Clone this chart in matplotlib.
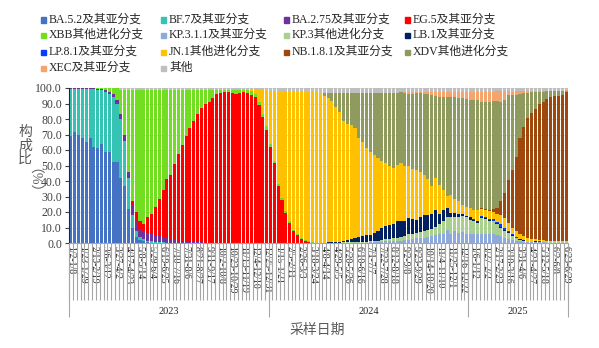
import matplotlib
matplotlib.use("Agg")
import matplotlib.pyplot as plt
import numpy as np
from matplotlib.patches import Rectangle

plt.rcParams['font.family'] = ['Liberation Serif', 'Noto Sans CJK SC']

# weekly lineage composition (%), Jan 2023 - Jun 2025, one value per week
ba52 = [69, 72, 70, 68, 65.5, 68, 62, 61.5, 64, 58.5, 59, 52.5, 52.5, 42, 36.5, 22, 10, 4, 2, 1,
        0.5, 0.3, 0.2, 0.1, 0.1] + [0] * 105
bf7 = [30.5, 27.5, 29.5, 31.5, 34, 31.5, 37.5, 37.5, 34.5, 39, 37, 41.5, 37.5, 38, 29.5, 20, 8, 4, 2,
       1.5, 1, 0.8, 0.6, 0.4, 0.3, 0.2] + [0] * 104
ba275 = [0.3] * 7 + [0.5, 0.8, 1.2, 1.5, 2, 2.5, 3, 3.5, 4, 6, 6, 5, 5, 5, 4.5, 4, 4, 3.5, 3, 2.5, 2,
                     1.5, 1.2, 1, 0.8, 0.6, 0.5, 0.4, 0.3] + [0.2] * 5 + [0.1] * 5 + [0] * 84
eg5 = [0] * 16 + [3, 6, 5, 5, 10.5, 13.4, 18.2, 24, 30, 37.8, 41.3, 49, 56, 61.8, 68, 73.2, 78.4, 82.5,
                  86.6, 89.7, 90.8, 93.1, 95.8, 96.4, 97.4, 97.5, 96.9, 95.9, 96.5, 97.1, 96.9, 95.5,
                  94.4, 89, 81, 73, 62, 51.5, 36.5, 27.5, 19.3, 13, 7.5, 5, 2.8, 1.5, 0.6, 0.3, 0.2,
                  0.1] + [0] * 64
xbb = [0.1] * 7 + [0.3, 0.5, 1.1, 2.3, 3.8, 7.3, 16, 29.5, 53, 72, 79, 85, 86.5, 82, 80, 76, 70.5, 65.1,
                   58, 55.2, 48, 41.5, 36, 30, 25, 20, 16, 12, 9, 8, 5.7, 3, 2.4, 1.4, 1.4, 2, 3, 2.2,
                   1.5, 1.6, 2.3, 1.6, 2, 2.5, 2.5, 2, 1.5, 1.5, 1.5, 1.2, 1, 1, 1, 0.7, 0.5, 0.4, 0.2,
                   0.1] + [0] * 65
kp311 = [0] * 67 + [0.1] * 5 + [0.2] * 3 + [0.3] * 3 + [
    0.5, 0.5, 0.6, 0.8, 1, 1, 1.2, 1.5, 1.5, 2, 2.2, 2.4, 3, 3.2, 3.5, 4, 4.5, 5, 5.5, 6, 8.5, 6, 7.5,
    6.5, 7, 6, 5.5, 5.5, 5.5, 6, 5.5, 5.5, 6, 5, 4.5, 3.5, 2.5, 2, 1.5, 1, 0.8, 0.6, 0.5, 0.5, 0.4,
    0.4] + [0.3] * 6
kp3 = [0] * 65 + [0.1, 0.1, 0.2, 0.2, 0.2, 0.2, 0.3, 0.3, 0.4, 0.4, 0.5, 0.5, 0.6] + [
    0.5, 0.7, 0.9, 1.2, 1.3, 1.8, 1.8, 2, 2.5, 2.5, 3.3, 3.6, 3.5, 3.8, 4, 4.5, 4.5, 5.5, 6.5, 8, 8.5,
    10.5, 9.5, 10.5, 10.5, 10.5, 9.5, 8.5, 7.5, 10, 10, 9, 8, 7.5, 5.5, 4.5, 4, 2.5, 1.5, 1, 0.7, 0.6,
    0.5, 0.4, 0.4, 0.3] + [0.3] * 6
lb1 = [0] * 65 + [0.1, 0.2, 0.2, 0.3, 0.4, 0.5, 0.8, 1.2, 1.8, 2.5, 3, 3.5, 4.5] + [
    4.4, 5.3, 6.5, 7.7, 8.4, 8.7, 9.5, 10.5, 10, 10, 10.5, 9.5, 8.5, 10, 10.5, 9.5, 9.5, 11, 7, 7.5,
    5.5, 3, 2.5, 1.5, 1, 1, 1.5, 1, 1, 0.8, 0.5, 0.5, 0.5, 0.5, 0.5, 0.5, 0.5, 0.5, 0.3, 0.3, 0.2,
    0.1, 0.1, 0.1, 0.1, 0.1] + [0.1] * 6
lp81 = [0] * 105 + [0.2, 0.2, 0.7, 1, 0.8, 0.7, 0.8, 1.5, 1.5, 1, 0.5, 0.3, 0.2, 0.1, 0.1, 0.1, 0.1,
                    0.1, 0.1] + [0.1] * 6
jn1 = [0] * 44 + [0.2, 0.3, 0.5, 1.2, 2.5, 7.5, 15, 23, 34, 45, 59.5, 68.5, 77, 83.5, 89, 91.5, 94,
                  95.5, 96.5, 97, 97.2, 96.3, 94.8, 93.2, 91.1, 87, 83.5, 77.8, 75.3, 73.6, 70.8,
                  64.2, 60.7, 55.6, 53.6, 50.5, 47, 42.9, 40.8, 38, 35.8, 36.4, 37.5, 35.3, 33.4,
                  32.1, 32.2, 29, 26, 23.2, 18, 20.3, 18.5, 12.8, 8, 11.5, 8.8, 8.3, 6.2, 5.5, 6,
                  6.3, 6.8, 4.5, 4.5, 4.7, 4.8, 5.2, 6, 6, 5, 4.5, 3.9, 3, 2.4, 1.9, 1.6, 1.3, 1.0,
                  0.9, 0.8, 0.7, 0.7, 0.7, 0.7, 0.7]
nb181 = [0] * 107 + [0.3, 0.5, 1, 2, 3.5, 8.8, 16, 27.8, 37, 48.3, 62.1, 70.8, 77.2, 80.9, 83.9,
                     87.7, 89.4, 91.1, 92.4, 93.4, 93.6, 94.1, 95.6]
xdv = [0] * 65 + [0.4, 1.9, 3.3, 5.3, 9.3, 12.7, 18, 20, 21, 23.1, 29, 32, 36, 38, 40, 42, 44.4, 45.5,
                  47.5, 48.7, 46.6, 45.7, 47.2, 46.6, 48.7, 49.3, 50.5, 52.3, 54.8, 59, 53.2, 57,
                  59.7, 64, 63, 65.7, 66.7, 68.8, 70, 70, 71, 71, 68.7, 69, 69.5, 69.5, 69.2, 64.4,
                  60.2, 54.4, 48.2, 39.9, 28.6, 21.7, 16.5, 13.5, 11.1, 7.9, 6.5, 5.1, 4, 3, 2.9,
                  2.4, 1.2]
xec = [0] * 86 + [0.3, 0.5, 1.5, 1.2, 1, 1, 1.2, 1.5, 2, 2.5, 3, 3.5, 3, 3.5, 3.5, 4, 4, 4.5, 5, 5,
                  5.5, 6.5, 6.5, 6.5, 6, 6.5, 7, 6, 3, 3, 2.5, 2, 1.5, 1.2, 1, 0.8, 0.6, 0.5, 0.4,
                  0.3, 0.3, 0.2, 0.2, 0.2]
other = [0.2] * 13 + [1] * 35 + [1.5] * 4 + [2] * 2 + [2.5] * 11 + [3] * 21 + [2.5] * 25 + [1.8] * 18 + [1.5]

series = [ba52, bf7, ba275, eg5, xbb, kp311, kp3, lb1, lp81, jn1, nb181, xdv, xec, other]
names = ['BA.5.2及其亚分支', 'BF.7及其亚分支', 'BA.2.75及其亚分支', 'EG.5及其亚分支',
         'XBB其他进化分支', 'KP.3.1.1及其亚分支', 'KP.3其他进化分支', 'LB.1及其亚分支',
         'LP.8.1及其亚分支', 'JN.1其他进化分支', 'NB.1.8.1及其亚分支', 'XDV其他进化分支',
         'XEC及其亚分支', '其他']
colors = ['#4472C4', '#35C3B4', '#7030A0', '#FF0000', '#72DE22', '#8EA9DB', '#A9D08E', '#002060',
          '#0A3CFF', '#FFC000', '#9E480E', '#8E9A5E', '#F4A46C', '#BFBFBF']

# every third week is labelled
week_labels = ['1/2-1/8', '1/23-1/29', '2/13-2/19', '3/6-3/12', '3/27-4/2', '4/17-4/23', '5/8-5/14',
               '5/29-6/4', '6/19-6/25', '7/10-7/16', '7/31-8/6', '8/21-8/27', '9/11-9/17',
               '10/2-10/8', '10/23-10/29', '11/13-11/19', '12/4-12/10', '12/25-12/31',
               '1/15-1/21', '2/5-2/11', '2/26-3/3', '3/18-3/24', '4/8-4/14', '4/29-5/5',
               '5/20-5/26', '6/10-6/16', '7/1-7/7', '7/22-7/28', '8/12-8/18', '9/2-9/8',
               '9/23-9/29', '10/14-10/20', '11/4-11/10', '11/25-12/1', '12/16-12/22',
               '1/6-1/12', '1/27-2/2', '2/17-2/23', '3/10-3/16', '3/31-4/6', '4/21-4/27',
               '5/12-5/18', '6/2-6/8', '6/23-6/29']
years = ['2023', '2024', '2025']
weeks_per_year = [52, 52, 26]

for s in series:
    assert len(s) == 130
data = np.array(series, dtype=float)
shares = data / data.sum(axis=0) * 100
n = data.shape[1]
x = np.arange(n)

W, H = 599, 348
fig = plt.figure(figsize=(W / 100, H / 100), dpi=100)
ax = fig.add_axes([69 / W, 105 / H, 499 / W, 155 / H])

bottom = np.zeros(n)
for vals, c in zip(shares, colors):
    ax.bar(x, vals, 0.8, bottom=bottom, color=c, linewidth=0, zorder=2)
    bottom += vals

ax.set_xlim(-0.5, n - 0.5)
ax.set_ylim(0, 100)
ax.set_yticks(np.arange(0, 101, 10))
ax.set_yticklabels(['%.1f' % v for v in np.arange(0, 101, 10)], fontsize=8.5, color='#404040')
ax.tick_params(axis='y', length=3, width=0.8, color='#404040', pad=2)
ax.yaxis.grid(True, color='#D9D9D9', lw=0.6, zorder=0)
ax.set_axisbelow(True)
for side in ['top', 'right']:
    ax.spines[side].set_visible(False)
ax.spines['left'].set_color('#262626')
ax.spines['left'].set_linewidth(0.8)
ax.spines['bottom'].set_color('#A6A6A6')
ax.spines['bottom'].set_linewidth(0.8)

ax.set_xticks(x[::3])
ax.set_xticklabels(week_labels, rotation=-90, fontsize=7, color='#262626')
ax.tick_params(axis='x', length=0, pad=2)

# category separators and year brackets under the axis
trans = ax.get_xaxis_transform()
ax.vlines(np.arange(n + 1) - 0.5, -0.37, 0, transform=trans, colors='#A6A6A6', lw=0.8, clip_on=False)
edges = np.concatenate([[0], np.cumsum(weeks_per_year)]) - 0.5
ax.vlines(edges, -0.48, 0, transform=trans, colors='#A6A6A6', lw=0.8, clip_on=False)
for yr, a, b in zip(years, edges[:-1], edges[1:]):
    ax.text((a + b) / 2, -0.44, yr, transform=trans, ha='center', va='center', fontsize=7.5,
            color='#262626')

fig.text(317 / W, 1 - 330 / H, '采样日期', ha='center', va='center', fontsize=10, color='#595959')
fig.text(25 / W, 1 - 146 / H, '构\n成\n比', ha='center', va='center', fontsize=10, color='#595959',
         linespacing=1.0)
fig.text(25 / W, 1 - 188 / H, '（%）', ha='center', va='center', fontsize=10, color='#595959',
         rotation=-90)

# legend, four entries per row
col_x = [41, 161, 284, 405]
row_y = [20, 35, 52, 68]
for i, (name, c) in enumerate(zip(names, colors)):
    cx = col_x[i % 4]
    cy = row_y[i // 4]
    fig.patches.append(Rectangle((cx / W, 1 - (cy + 2.5) / H), 5 / W, 5 / H, color=c,
                                 transform=fig.transFigure, figure=fig))
    fig.text((cx + 8) / W, 1 - cy / H, name, ha='left', va='center', fontsize=8.5, color='#262626')

fig.savefig('out.png', dpi=100)
